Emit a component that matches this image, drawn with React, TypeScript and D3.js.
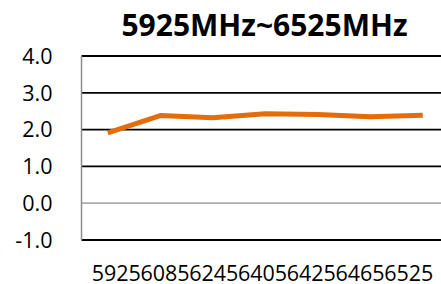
import * as d3 from "d3";

const categories = ["5925", "6085", "6245", "6405", "6425", "6465", "6525"];
const values = [1.91, 2.38, 2.32, 2.43, 2.41, 2.35, 2.39];
const yTicks = [-1, 0, 1, 2, 3, 4];
const title = "5925MHz~6525MHz";

export default function App() {
  const width = 441;
  const height = 284;
  const marginLeft = 81.5;
  const plotRight = 449;
  const plotTop = 56;
  const plotBottom = 240;

  const x = d3.scaleBand(categories, [marginLeft, plotRight]);
  const xc = (c: string) => (x(c) ?? 0) + x.bandwidth() / 2;
  const y = d3.scaleLinear([-1, 4], [plotBottom, plotTop]);
  // labels in the original are packed slightly tighter than the points
  const xLabel = d3.scalePoint(categories, [xc(categories[0]) + 8.5, xc(categories[categories.length - 1]) - 14]);

  const line = d3
    .line<number>()
    .x((_, i) => xc(categories[i]))
    .y((d) => y(d));

  const font = "'Open Sans', 'Noto Sans', sans-serif";

  return (
    <svg
      width={width}
      height={height}
      style={{ position: "absolute", left: 0, top: 0, background: "#fff" }}
    >
      <text
        x={264.5}
        y={36}
        textAnchor="middle"
        fontFamily={font}
        fontWeight="bold"
        fontSize={30}
        fill="#000"
      >
        {title}
      </text>
      {yTicks.map((t) => (
        <g key={t}>
          <line
            x1={marginLeft}
            x2={plotRight}
            y1={y(t)}
            y2={y(t)}
            stroke={t === 0 ? "#8c8c8c" : "#000"}
            strokeWidth={t === 0 ? 1.3 : 1.8}
          />
          <text
            x={52.5}
            y={y(t)}
            dy="0.36em"
            textAnchor="end"
            fontFamily={font}
            fontSize={21.5}
            fill="#000"
          >
            {t.toFixed(1)}
          </text>
        </g>
      ))}
      <line
        x1={marginLeft}
        x2={marginLeft}
        y1={plotTop}
        y2={plotBottom}
        stroke="#8c8c8c"
        strokeWidth={1.5}
      />
      {categories.map((c) => (
        <text
          key={c}
          x={xLabel(c)}
          y={281}
          textAnchor="middle"
          fontFamily={font}
          fontSize={21.5}
          fill="#000"
        >
          {c}
        </text>
      ))}
      <path
        d={line(values) ?? ""}
        fill="none"
        stroke="#e46c0a"
        strokeWidth={5}
        strokeLinejoin="round"
      />
    </svg>
  );
}
